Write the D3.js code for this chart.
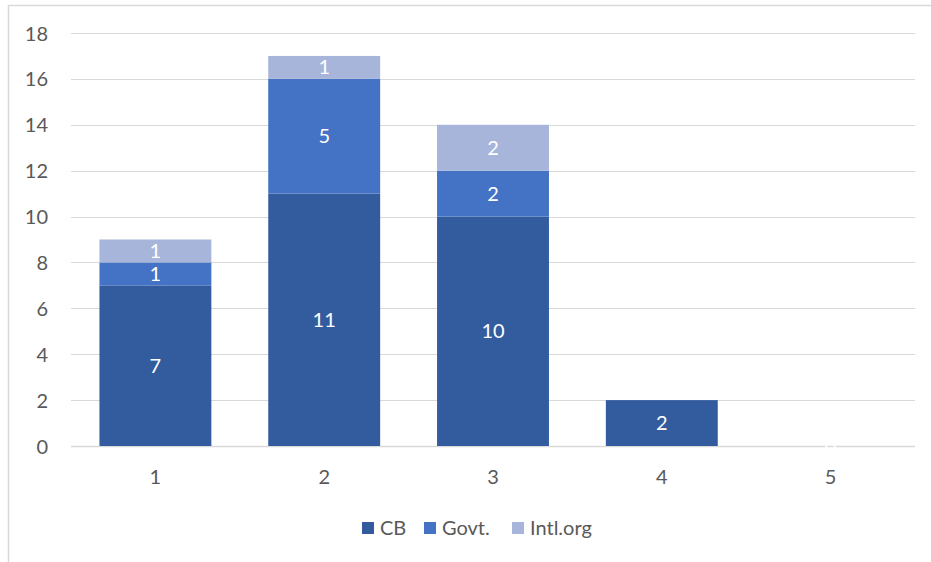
<!DOCTYPE html>
<html>
<head>
<meta charset="utf-8">
<script src="https://cdn.jsdelivr.net/npm/d3@7"></script>
<style>
  html, body { margin: 0; padding: 0; background: #fff; }
  svg { display: block; }
  text { font-family: Lato, "Open Sans", "Liberation Sans", sans-serif; }
</style>
</head>
<body>
<svg id="chart" width="931" height="562"></svg>
<script>
// Categories and stacked series
const categories = ["1", "2", "3", "4", "5"];
const seriesNames = ["CB", "Govt.", "Intl.org"];
const cbValues = [7, 11, 10, 2, 0];
const govtValues = [1, 5, 2, null, null];
const intlValues = [1, 1, 2, null, null];
const yTicks = [0, 2, 4, 6, 8, 10, 12, 14, 16, 18];
const colors = ["#335c9f", "#4472c4", "#a7b5db"];

const svg = d3.select("#chart");
const W = 931, H = 562;
const plot = { left: 71, right: 915, top: 33, bottom: 446 };
const fs = 20;

// chart area frame (left and top edges visible)
svg.append("path")
  .attr("d", `M8.5,${H} L8.5,5.5 L${W},5.5`)
  .attr("fill", "none").attr("stroke", "#d9d9d9").attr("stroke-width", 1.5);

const x = d3.scaleBand().domain(categories)
  .range([plot.left, plot.right]).paddingInner(0.337).paddingOuter(0.1685);
const y = d3.scaleLinear().domain([0, 18]).range([plot.bottom, plot.top]);

// gridlines
svg.append("g").selectAll("line").data(yTicks).join("line")
  .attr("x1", plot.left).attr("x2", plot.right)
  .attr("y1", d => Math.round(y(d)) + 0.5).attr("y2", d => Math.round(y(d)) + 0.5)
  .attr("stroke", "#d9d9d9").attr("stroke-width", d => d === 0 ? 1.5 : 1);

// y axis labels
const yAxis = d3.axisLeft(y).tickValues(yTicks).tickSize(0).tickPadding(0);
const gy = svg.append("g").attr("transform", `translate(${plot.left - 23},0)`).call(yAxis);
gy.select(".domain").remove();
gy.selectAll("text").attr("fill", "#595959").attr("font-size", fs).attr("dy", "0.35em");

// x axis labels
const xAxis = d3.axisBottom(x).tickSize(0).tickPadding(0);
const gx = svg.append("g").attr("transform", `translate(0,${plot.bottom + 31})`).call(xAxis);
gx.select(".domain").remove();
gx.selectAll("text").attr("fill", "#595959").attr("font-size", fs).attr("dy", "0.35em");

// stacked bars
const rows = categories.map((c, i) => ({
  cat: c,
  "CB": cbValues[i],
  "Govt.": govtValues[i],
  "Intl.org": intlValues[i]
}));
const stack = d3.stack().keys(seriesNames).value((d, k) => d[k] == null ? 0 : d[k]);
const layers = stack(rows);

layers.forEach((layer, li) => {
  const g = svg.append("g");
  g.selectAll("rect").data(layer).join("rect")
    .attr("x", d => x(d.data.cat))
    .attr("width", x.bandwidth())
    .attr("y", d => y(d[1]))
    .attr("height", d => y(d[0]) - y(d[1]))
    .attr("fill", colors[li]);
  g.selectAll("text")
    .data(layer.filter(d => d.data[layer.key] != null))
    .join("text")
    .attr("x", d => x(d.data.cat) + x.bandwidth() / 2)
    .attr("y", d => (y(d[0]) + y(d[1])) / 2)
    .attr("dy", "0.35em")
    .attr("text-anchor", "middle")
    .attr("fill", "#ffffff")
    .attr("font-size", fs)
    .text(d => d.data[layer.key]);
});

// legend
const legendItems = [
  { name: "CB", sx: 362 },
  { name: "Govt.", sx: 424 },
  { name: "Intl.org", sx: 512 }
];
const lg = svg.append("g");
legendItems.forEach((it, i) => {
  lg.append("rect").attr("x", it.sx).attr("y", 522).attr("width", 12).attr("height", 12)
    .attr("fill", colors[i]);
  lg.append("text").attr("x", it.sx + 18).attr("y", 528).attr("dy", "0.35em")
    .attr("fill", "#595959").attr("font-size", fs).text(seriesNames[i]);
});
</script>
</body>
</html>
